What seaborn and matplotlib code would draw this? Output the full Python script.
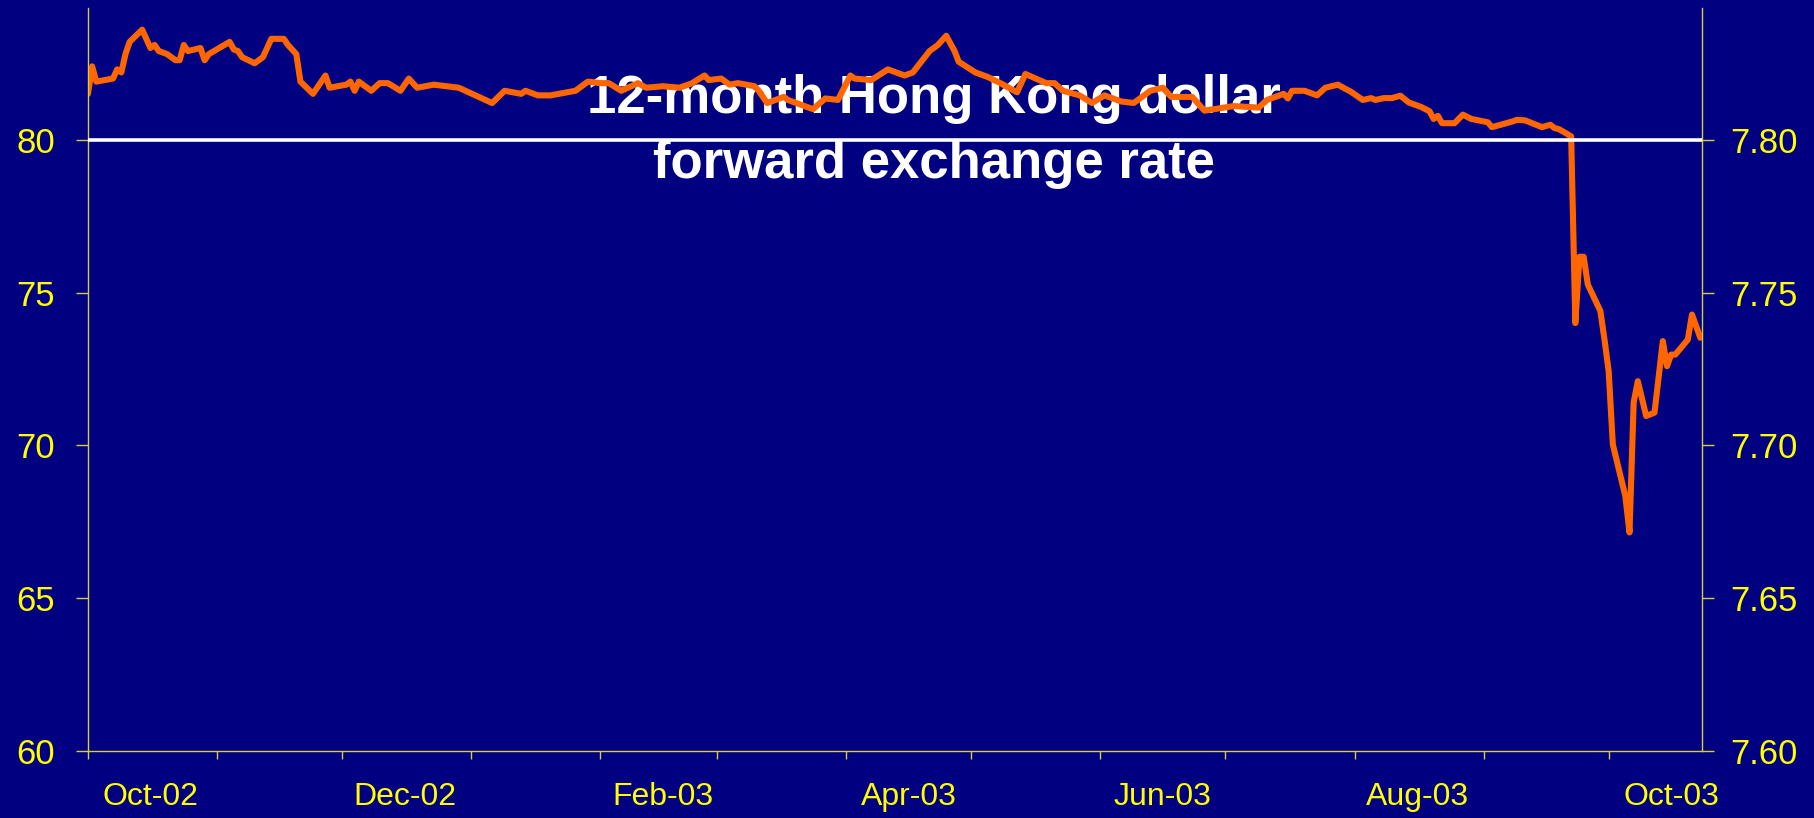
import pandas as pd
import seaborn as sns
import matplotlib.pyplot as plt
import matplotlib.dates as mdates
from matplotlib.ticker import FormatStrFormatter

# 12-month HKD forward, in points over 7.00 (left axis); right axis shows the rate
dates = [
    "2002-10-01", "2002-10-02", "2002-10-03", "2002-10-07", "2002-10-08", "2002-10-09",
    "2002-10-10", "2002-10-11", "2002-10-14", "2002-10-16", "2002-10-17", "2002-10-18",
    "2002-10-20", "2002-10-22", "2002-10-23", "2002-10-24", "2002-10-25", "2002-10-28",
    "2002-10-29", "2002-10-30", "2002-11-04", "2002-11-05", "2002-11-06", "2002-11-07",
    "2002-11-10", "2002-11-12", "2002-11-14", "2002-11-17", "2002-11-18", "2002-11-20",
    "2002-11-21", "2002-11-24", "2002-11-25", "2002-11-27", "2002-11-28", "2002-12-02",
    "2002-12-03", "2002-12-04", "2002-12-05", "2002-12-08", "2002-12-10", "2002-12-12",
    "2002-12-15", "2002-12-17", "2002-12-19", "2002-12-23", "2002-12-29", "2003-01-06",
    "2003-01-09", "2003-01-13", "2003-01-14", "2003-01-17", "2003-01-20", "2003-01-22",
    "2003-01-26", "2003-01-29", "2003-02-01", "2003-02-03", "2003-02-06", "2003-02-10",
    "2003-02-12", "2003-02-16", "2003-02-20", "2003-02-23", "2003-02-26", "2003-02-27",
    "2003-03-02", "2003-03-04", "2003-03-06", "2003-03-10", "2003-03-11", "2003-03-13",
    "2003-03-17", "2003-03-18", "2003-03-24", "2003-03-27", "2003-03-30", "2003-04-02",
    "2003-04-03", "2003-04-07", "2003-04-11", "2003-04-15", "2003-04-17", "2003-04-21",
    "2003-04-23", "2003-04-25", "2003-04-27", "2003-04-28", "2003-05-02", "2003-05-05",
    "2003-05-08", "2003-05-12", "2003-05-14", "2003-05-19", "2003-05-21", "2003-05-23",
    "2003-05-27", "2003-05-30", "2003-06-02", "2003-06-06", "2003-06-09", "2003-06-13",
    "2003-06-16", "2003-06-18", "2003-06-23", "2003-06-26", "2003-07-03", "2003-07-09",
    "2003-07-11", "2003-07-15", "2003-07-16", "2003-07-17", "2003-07-20", "2003-07-23",
    "2003-07-25", "2003-07-28", "2003-07-30", "2003-07-31", "2003-08-03", "2003-08-05",
    "2003-08-06", "2003-08-08", "2003-08-10", "2003-08-12", "2003-08-14", "2003-08-17",
    "2003-08-19", "2003-08-20", "2003-08-21", "2003-08-22", "2003-08-25", "2003-08-27",
    "2003-08-29", "2003-09-02", "2003-09-03", "2003-09-08", "2003-09-09", "2003-09-11",
    "2003-09-15", "2003-09-17", "2003-09-18", "2003-09-19", "2003-09-22", "2003-09-23",
    "2003-09-24", "2003-09-25", "2003-09-26", "2003-09-29", "2003-09-30", "2003-10-01",
    "2003-10-02", "2003-10-05", "2003-10-06", "2003-10-07", "2003-10-08", "2003-10-10",
    "2003-10-12", "2003-10-14", "2003-10-15", "2003-10-16", "2003-10-17", "2003-10-20",
    "2003-10-21", "2003-10-23",
]
values = [
    81.5, 82.4, 81.9, 82.0, 82.3, 82.2,
    82.8, 83.2, 83.6, 83.0, 83.1, 82.9,
    82.8, 82.6, 82.6, 83.1, 82.9, 83.0,
    82.6, 82.8, 83.2, 82.95, 82.9, 82.7,
    82.5, 82.7, 83.3, 83.3, 83.1, 82.8,
    81.9, 81.5, 81.7, 82.1, 81.7, 81.8,
    81.9, 81.6, 81.9, 81.6, 81.85, 81.85,
    81.6, 82.0, 81.7, 81.8, 81.7, 81.2,
    81.6, 81.5, 81.6, 81.45, 81.45, 81.5,
    81.6, 81.9, 81.85, 81.85, 81.6, 81.85,
    81.7, 81.75, 81.7, 81.85, 82.1, 81.95,
    82.0, 81.8, 81.85, 81.75, 81.6, 81.2,
    81.4, 81.3, 81.0, 81.35, 81.3, 82.1,
    82.0, 81.95, 82.3, 82.1, 82.2, 82.9,
    83.1, 83.4, 82.9, 82.55, 82.2, 82.05,
    81.85, 81.55, 82.15, 81.85, 81.85, 81.6,
    81.45, 81.2, 81.45, 81.25, 81.2, 81.6,
    81.7, 81.4, 81.4, 80.95, 81.1, 81.05,
    81.3, 81.5, 81.35, 81.6, 81.6, 81.45,
    81.7, 81.8, 81.65, 81.58, 81.3, 81.36,
    81.3, 81.36, 81.36, 81.44, 81.22, 81.07,
    80.93, 80.68, 80.78, 80.54, 80.54, 80.82,
    80.68, 80.57, 80.41, 80.6, 80.65, 80.63,
    80.41, 80.49, 80.38, 80.35, 80.11, 74.0,
    76.17, 76.17, 75.26, 74.4, 73.46, 72.43,
    70.03, 68.34, 67.15, 71.4, 72.1, 70.96,
    71.07, 73.41, 72.59, 72.97, 72.97, 73.46,
    74.28, 73.52,
]

left_ticks = [60, 65, 70, 75, 80]
right_ticks = [7.60, 7.65, 7.70, 7.75, 7.80]
peg_level = 80
title_lines = ["12-month Hong Kong dollar", "forward exchange rate"]

navy = "#000080"
yellow = "#FFFF00"
axis_col = "#D0D040"

df = pd.DataFrame({"date": pd.to_datetime(dates), "value": values})

plt.rcParams["font.family"] = ["Liberation Sans", "DejaVu Sans"]

fig = plt.figure(figsize=(18.14, 8.18), dpi=100, facecolor=navy)
ax = fig.add_axes([0.0485, 0.0819, 0.8896, 0.908])
ax.set_facecolor(navy)

sns.lineplot(data=df, x="date", y="value", ax=ax, color="#FF6600",
             linewidth=4.4, zorder=2)
for ln in ax.get_lines():
    ln.set_solid_joinstyle("round")
    ln.set_solid_capstyle("round")
ax.axhline(peg_level, color="white", linewidth=2.6, zorder=3)

ax.set_xlim(pd.Timestamp("2002-10-01"), pd.Timestamp("2003-10-23 08:00"))
ax.set_ylim(60, 84.3)
ax.set_xlabel("")
ax.set_ylabel("")

for s in ["top", "right"]:
    ax.spines[s].set_visible(False)
for s in ["left", "bottom"]:
    ax.spines[s].set_color(axis_col)
    ax.spines[s].set_linewidth(1.0)

ax.set_yticks(left_ticks)
ax.tick_params(axis="y", colors=axis_col, labelcolor=yellow, labelsize=25,
               length=8.9, width=1, pad=15)

ax.xaxis.set_major_locator(mdates.MonthLocator(bymonthday=1))
ax.xaxis.set_major_formatter(plt.NullFormatter())
ax.xaxis.set_minor_locator(mdates.MonthLocator(bymonth=[2, 4, 6, 8, 10, 12], bymonthday=16))
ax.xaxis.set_minor_formatter(mdates.DateFormatter("%b-%y"))
ax.tick_params(axis="x", which="major", colors=axis_col, length=6.9, width=1)
ax.tick_params(axis="x", which="minor", length=0, labelcolor=yellow,
               labelsize=23, pad=22)
for t in ax.xaxis.get_major_ticks():
    m = mdates.num2date(t.get_loc()).month
    if m % 2 == 1:
        t.tick1line.set_markersize(5.5)

sec = ax.secondary_yaxis("right", functions=(lambda v: v / 100 + 7,
                                             lambda r: (r - 7) * 100))
sec.set_yticks(right_ticks)
sec.yaxis.set_major_formatter(FormatStrFormatter("%.2f"))
sec.spines["right"].set_color(axis_col)
sec.spines["right"].set_linewidth(1.0)
sec.tick_params(axis="y", colors=axis_col, labelcolor=yellow, labelsize=25,
                length=8.4, width=1, pad=12)

ax.text(0.515, 1 - 113 / 818, title_lines[0], transform=fig.transFigure,
        ha="center", va="baseline", color="white", fontsize=38,
        fontweight="bold", zorder=1)
ax.text(0.515, 1 - 178 / 818, title_lines[1], transform=fig.transFigure,
        ha="center", va="baseline", color="white", fontsize=38,
        fontweight="bold", zorder=1)

fig.savefig("out.png", dpi=100, facecolor=navy)
